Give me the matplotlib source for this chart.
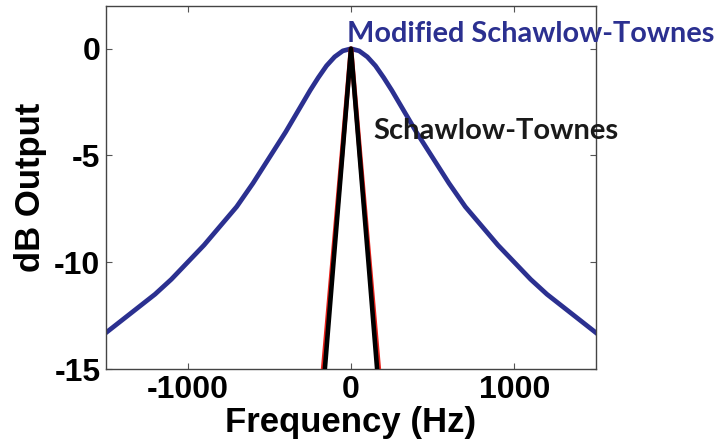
import numpy as np
import matplotlib
matplotlib.use('Agg')
import matplotlib.pyplot as plt

# modified Schawlow-Townes lineshape (dB)
f_mod = [-1500, -1400, -1300, -1200, -1100, -1000, -900, -800, -700, -600, -500,
         -400, -300, -250, -200, -150, -100, -50, 0,
         50, 100, 150, 200, 250, 300, 400, 500, 600, 700, 800, 900, 1000,
         1100, 1200, 1300, 1400, 1500]
db_mod = [-13.3, -12.7, -12.1, -11.5, -10.8, -10.0, -9.2, -8.3, -7.4, -6.3, -5.1,
          -3.9, -2.6, -1.95, -1.35, -0.8, -0.38, -0.1, 0.0,
          -0.1, -0.38, -0.8, -1.35, -1.95, -2.6, -3.9, -5.1, -6.3, -7.4, -8.3, -9.2, -10.0,
          -10.8, -11.5, -12.1, -12.7, -13.3]

# Schawlow-Townes (black) and its fit (red)
f_st = [-200, -160, -107, -53, 0, 53, 107, 160, 200]
db_st = [-18.8, -15.0, -10.0, -5.0, 0.0, -5.0, -10.0, -15.0, -18.8]
f_fit = [-210, -170, -113, -56, 0, 56, 113, 170, 210]
db_fit = [-18.5, -15.0, -10.0, -5.0, 0.0, -5.0, -10.0, -15.0, -18.5]

xticks = [-1000, 0, 1000]
yticks = [0, -5, -10, -15]

blue = '#2b3090'

fig = plt.figure(figsize=(7.23, 4.46), dpi=100)
ax = fig.add_axes([0.1466, 0.1726, 0.6777, 0.8139])

ax.plot(f_mod, db_mod, color=blue, lw=3.4, zorder=2)
ax.plot(f_fit, db_fit, color='#e8231c', lw=3.4, zorder=3)
ax.plot(f_st, db_st, color='black', lw=3.3, zorder=4)

ax.set_xlim(-1500, 1500)
ax.set_ylim(-15, 2)
ax.set_xticks(xticks)
ax.set_yticks(yticks)
ax.set_xticklabels([str(t) for t in xticks], fontsize=23, fontweight='bold',
                   family='Liberation Sans')
ax.set_yticklabels([str(t) for t in yticks], fontsize=23, fontweight='bold',
                   family='Liberation Sans')
ax.tick_params(direction='in', length=4, width=0.8, color='#555555',
               top=True, right=True, pad=4)
for s in ax.spines.values():
    s.set_color('#444444')
    s.set_linewidth(1.0)

ax.set_xlabel('Frequency (Hz)', fontsize=25, fontweight='bold',
              family='Liberation Sans', labelpad=1)
ax.set_ylabel('dB Output', fontsize=25, fontweight='bold',
              family='Liberation Sans', labelpad=5)

ax.text(-25, 0.3, 'Modified Schawlow-Townes', color=blue, fontsize=20.8,
        fontweight='bold', family='Lato', clip_on=False, zorder=5)
ax.text(135, -4.25, 'Schawlow-Townes', color='#1a1a1a', fontsize=21,
        fontweight='bold', family='Lato', clip_on=False, zorder=5)

fig.savefig('out.png', dpi=100, facecolor='white')
